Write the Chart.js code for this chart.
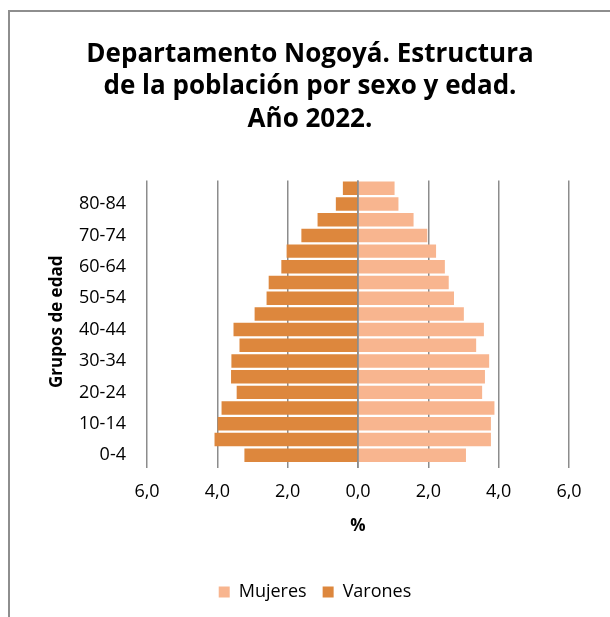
<!DOCTYPE html>
<html lang="es">
<head>
<meta charset="utf-8">
<title>Departamento Nogoyá - pirámide de población 2022</title>
<script src="https://cdn.jsdelivr.net/npm/chart.js@4.4.1/dist/chart.umd.min.js"></script>
<style>
  html, body { margin: 0; padding: 0; background: #fff; overflow: hidden; }
  #frame { position: absolute; left: 8px; top: 10px; width: 800px; height: 800px;
           border-top: 2px solid #8e8e8e; border-left: 2px solid #8e8e8e; }
  #wrap { position: absolute; left: 0; top: 0; width: 610px; height: 617px; }
</style>
</head>
<body>
<div id="frame"></div>
<div id="wrap"><canvas id="pyramid"></canvas></div>
<script>
'use strict';

// Grupos de edad, de abajo (0-4) hacia arriba (85+)
const AGE_GROUPS = ['0-4', '5-9', '10-14', '15-19', '20-24', '25-29', '30-34', '35-39', '40-44',
                    '45-49', '50-54', '55-59', '60-64', '65-69', '70-74', '75-79', '80-84', '85+'];

// % sobre la población total
const MUJERES = [3.07, 3.78, 3.78, 3.88, 3.53, 3.61, 3.73, 3.36, 3.58,
                 3.01, 2.73, 2.58, 2.47, 2.22, 1.97, 1.58, 1.15, 1.04];
const VARONES = [3.23, 4.08, 3.99, 3.88, 3.45, 3.61, 3.60, 3.37, 3.54,
                 2.94, 2.60, 2.54, 2.18, 2.03, 1.61, 1.15, 0.63, 0.43];

const X_TICKS = [-6, -4, -2, 0, 2, 4, 6];

const FONT = '"Open Sans", "DejaVu Sans", sans-serif';
const GRID = '#8c8c8c';

function fmt(v) { return Math.abs(v).toFixed(1).replace('.', ','); }

// línea del eje en 0, por encima de las barras (como en Excel)
const zeroLine = {
  id: 'zeroLine',
  afterDatasetsDraw(chart) {
    const { ctx, chartArea, scales } = chart;
    const x = scales.x.getPixelForValue(0);
    ctx.save();
    ctx.strokeStyle = GRID;
    ctx.lineWidth = 1.5;
    ctx.beginPath();
    ctx.moveTo(x, chartArea.top);
    ctx.lineTo(x, chartArea.bottom + 5);
    ctx.stroke();
    ctx.restore();
  },
};

// título y leyenda centrados como en el gráfico de Excel
function centerBox(box, mid) {
  const d = mid - (box.left + box.right) / 2;
  box.left += d;
  box.right += d;
}
const recenter = {
  id: 'recenter',
  afterLayout(chart) {
    centerBox(chart.titleBlock, 310);
    centerBox(chart.legend, 315);
  },
};

new Chart(document.getElementById('pyramid'), {
  type: 'bar',
  data: {
    labels: AGE_GROUPS,
    datasets: [
      { label: 'Mujeres', data: MUJERES, backgroundColor: '#f8b58f', borderWidth: 0,
        barPercentage: 0.86, categoryPercentage: 1 },
      { label: 'Varones', data: VARONES.map(v => -v), backgroundColor: '#dd873d', borderWidth: 0,
        barPercentage: 0.86, categoryPercentage: 1 },
    ],
  },
  options: {
    indexAxis: 'y',
    responsive: true,
    maintainAspectRatio: false,
    animation: false,
    layout: { padding: { left: 0, right: 41, top: 0, bottom: 6 } },
    scales: {
      x: {
        stacked: true,
        min: -6,
        max: 6,
        afterBuildTicks: axis => { axis.ticks = X_TICKS.map(v => ({ value: v })); },
        ticks: { callback: v => fmt(v), color: '#000', padding: 13,
                 font: { family: FONT, size: 18 } },
        grid: { color: GRID, lineWidth: 1.5, drawTicks: true, tickLength: 5, tickColor: GRID },
        border: { display: false },
        title: { display: true, text: '%', color: '#000', padding: { top: 0, bottom: 31 },
                 font: { family: FONT, size: 17, weight: 'bold' } },
      },
      y: {
        stacked: true,
        reverse: true,
        afterFit: axis => { axis.width = 147; },
        ticks: { autoSkip: false, color: '#000', padding: 21,
                 callback: (v, i) => (i % 2 === 0 ? AGE_GROUPS[i] : ''),
                 font: { family: FONT, size: 18 } },
        grid: { display: false, drawTicks: false },
        border: { display: false },
        title: { display: true, text: 'Grupos de edad', color: '#000', padding: { top: 47, bottom: 0 },
                 font: { family: FONT, size: 17, weight: 'bold' } },
      },
    },
    plugins: {
      title: {
        display: true,
        text: ['Departamento Nogoyá. Estructura', 'de la población por sexo y edad.', 'Año 2022.'],
        color: '#000',
        font: { family: FONT, size: 26, weight: 'bold', lineHeight: 1.25 },
        padding: { top: 38, bottom: 45 },
      },
      legend: {
        position: 'bottom',
        labels: { boxWidth: 11, boxHeight: 11, padding: 16, color: '#000',
                  font: { family: FONT, size: 18 } },
      },
      tooltip: { callbacks: { label: c => `${c.dataset.label}: ${fmt(c.parsed.x)} %` } },
    },
  },
  plugins: [zeroLine, recenter],
});
</script>
</body>
</html>
